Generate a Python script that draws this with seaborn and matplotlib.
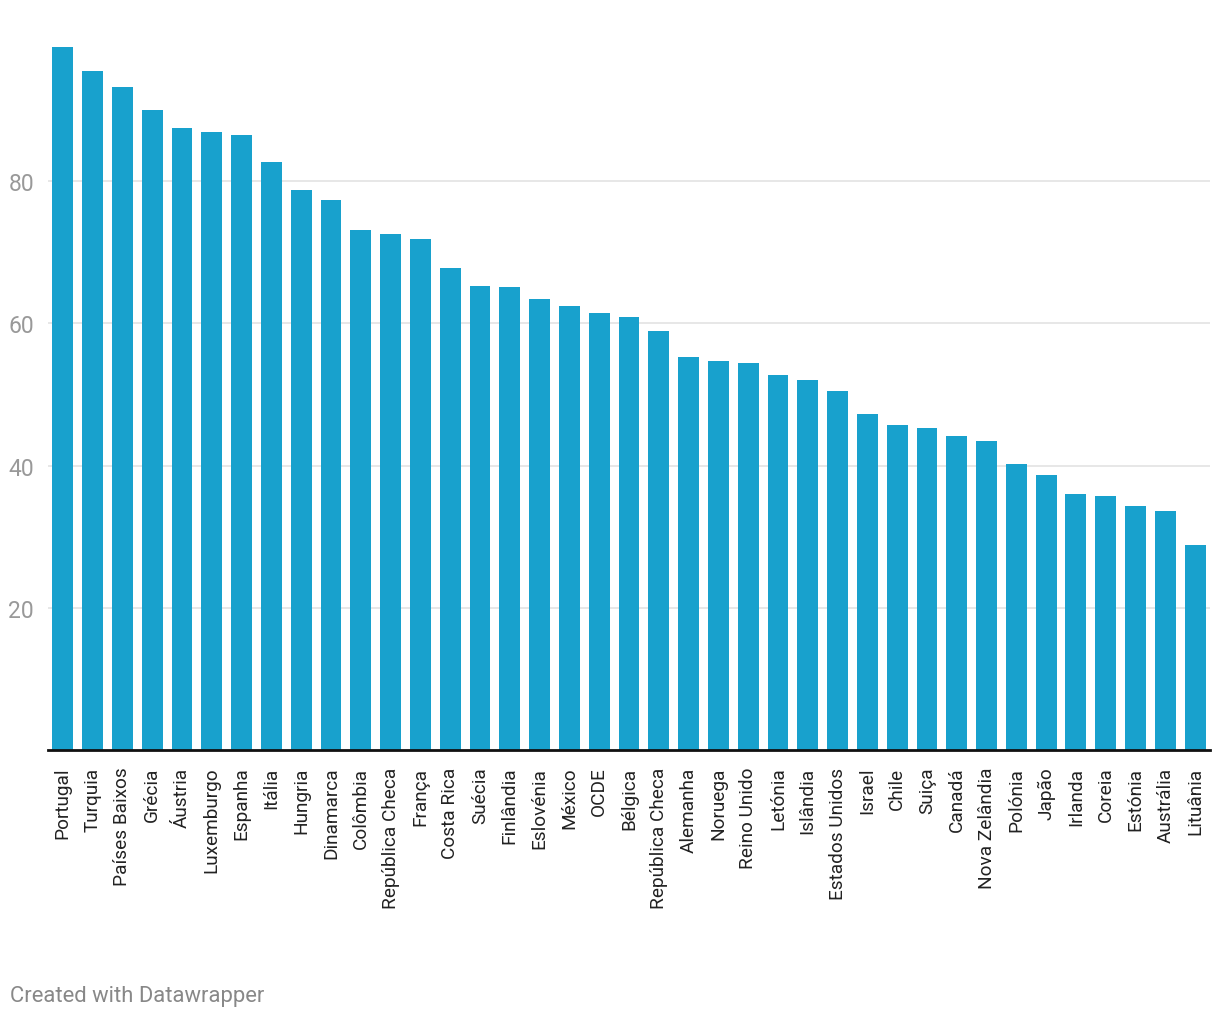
import matplotlib
matplotlib.use("Agg")
import matplotlib.pyplot as plt
import seaborn as sns
import pandas as pd

# ===== Data =====
countries = [
    "Portugal", "Turquia", "Países Baixos", "Grécia", "Áustria", "Luxemburgo",
    "Espanha", "Itália", "Hungria", "Dinamarca", "Colômbia", "República Checa",
    "França", "Costa Rica", "Suécia", "Finlândia", "Eslovénia", "México", "OCDE",
    "Bélgica", "República Checa ", "Alemanha", "Noruega", "Reino Unido", "Letónia",
    "Islândia", "Estados Unidos", "Israel", "Chile", "Suiça", "Canadá",
    "Nova Zelândia", "Polónia", "Japão", "Irlanda", "Coreia", "Estónia",
    "Austrália", "Lituânia",
]
values = [
    98.8, 95.5, 93.2, 90.0, 87.5, 86.9, 86.5, 82.7, 78.7, 77.3, 73.1, 72.5,
    71.8, 67.8, 65.2, 65.1, 63.4, 62.4, 61.4, 60.9, 58.9, 55.3, 54.7, 54.4,
    52.7, 52.0, 50.5, 47.2, 45.7, 45.3, 44.1, 43.4, 40.2, 38.7, 36.0, 35.7,
    34.3, 33.6, 28.8,
]
y_ticks = [20, 40, 60, 80]

df = pd.DataFrame({"country": countries, "value": values})

# ===== Style =====
sns.set_style("white")
plt.rcParams["font.family"] = ["Roboto", "DejaVu Sans"]

fig = plt.figure(figsize=(12.2, 10.2), dpi=100)
ax = fig.add_axes([0.0393, 0.2637, 0.9525, 0.6973])

sns.barplot(data=df, x="country", y="value", color="#18a1cd", saturation=1,
            width=0.7, linewidth=0, ax=ax, zorder=3)

ax.set_xlim(-0.5, len(countries) - 0.5)
ax.set_ylim(0, 100)
ax.set_yticks(y_ticks)
ax.set_yticklabels([str(t) for t in y_ticks], fontsize=16.5, color="#999999")
ax.yaxis.grid(True, color="#e3e3e3", linewidth=1.2, zorder=0)
ax.set_axisbelow(True)

ax.set_xticks(range(len(countries)))
ax.set_xticklabels([c.strip() for c in countries], rotation=90, fontsize=13.7,
                   color="#222222", va="top", ha="center")
ax.tick_params(axis="x", length=0, pad=12)
ax.tick_params(axis="y", length=0, pad=10)
ax.set_xlabel("")
ax.set_ylabel("")

for s in ["top", "right", "left"]:
    ax.spines[s].set_visible(False)
ax.spines["bottom"].set_color("#111111")
ax.spines["bottom"].set_linewidth(2)
ax.spines["bottom"].set_zorder(4)

fig.text(10 / 1220, 1 - 997 / 1020, "Created with Datawrapper", fontsize=15.8,
         color="#888888", va="center", ha="left")

fig.savefig("out.png", dpi=100, facecolor="white")
